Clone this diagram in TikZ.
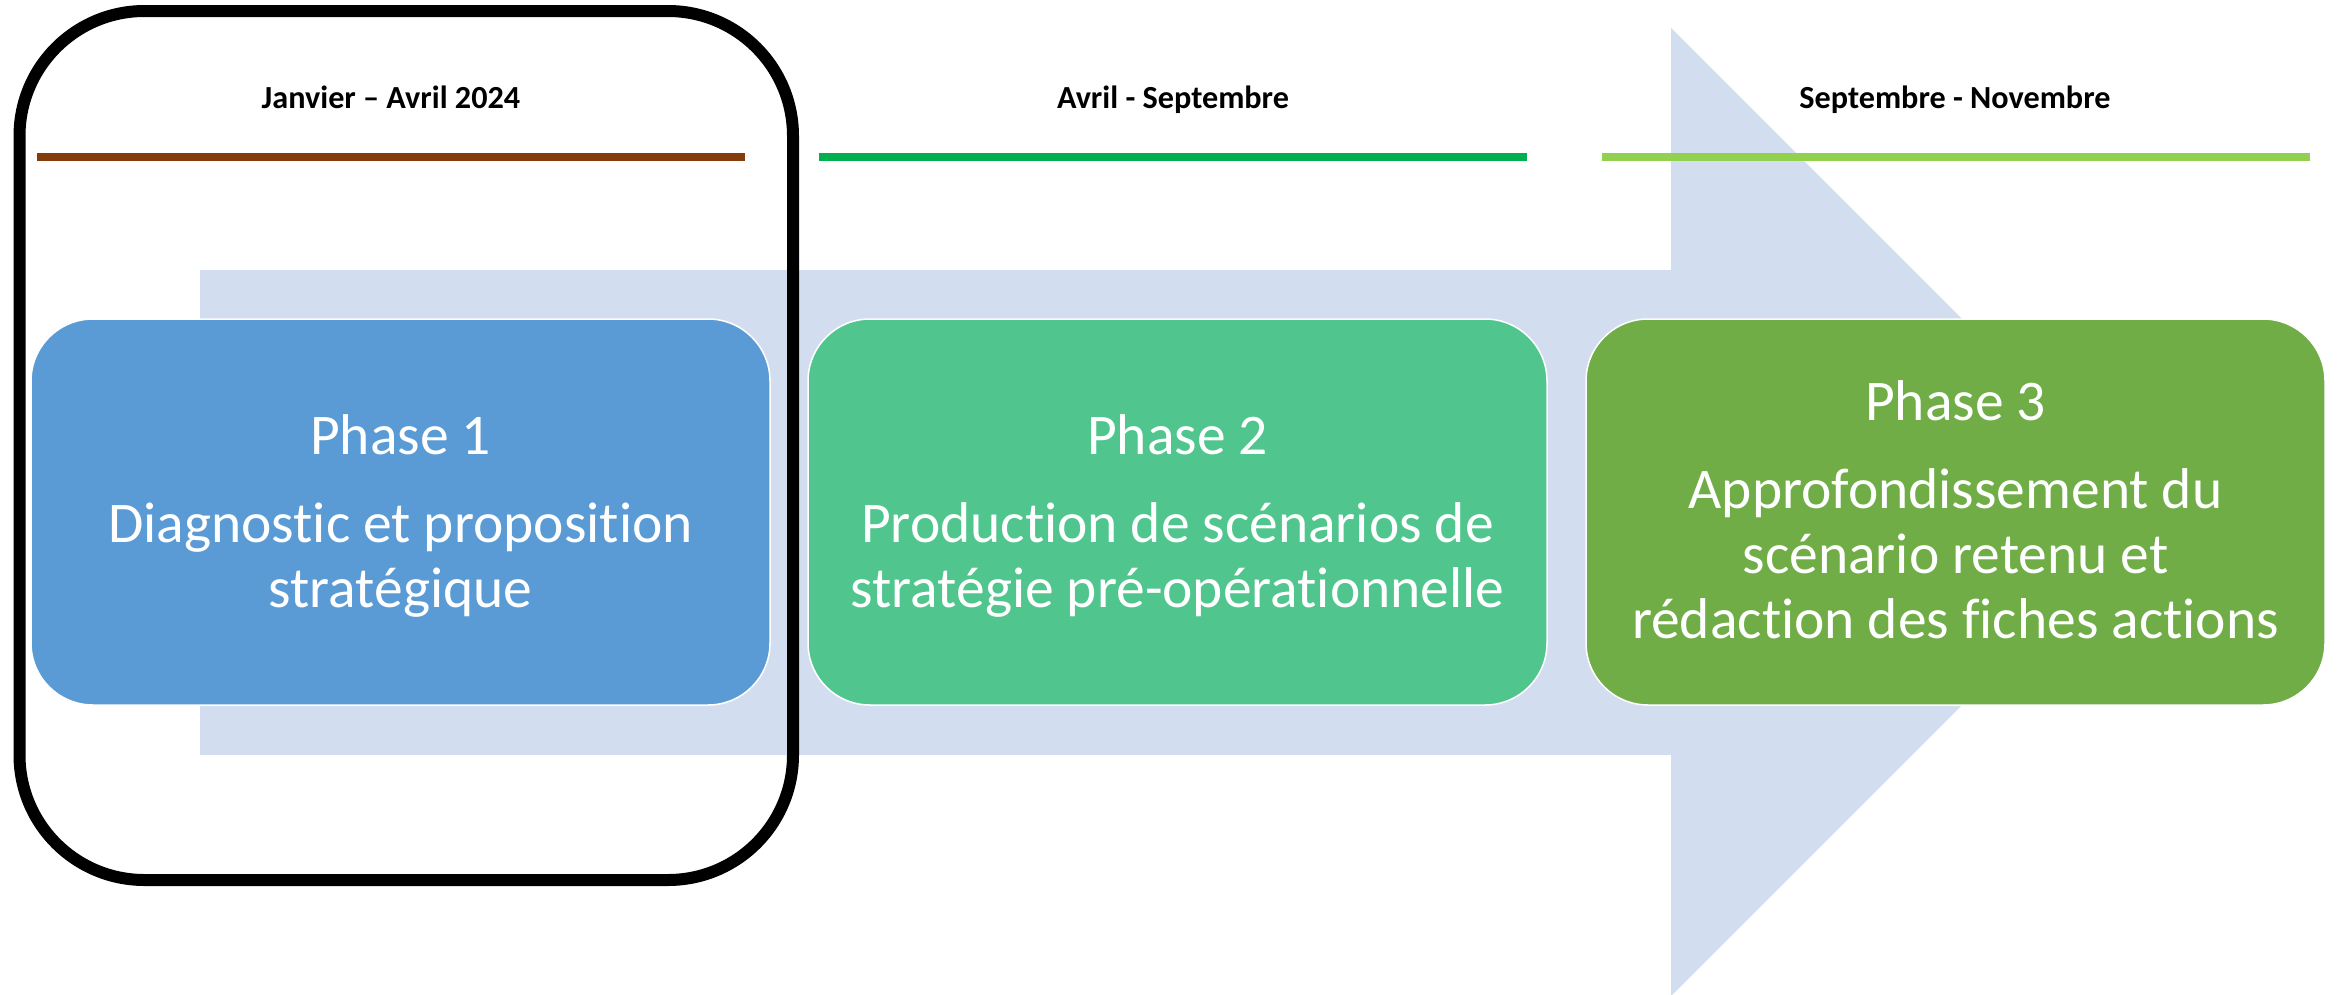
\documentclass[tikz,border=0pt]{standalone}
\usepackage{fontspec}
\setmainfont{Carlito}[Ligatures={NoCommon,TeX}]
\definecolor{arrowblue}{RGB}{210,222,239}
\definecolor{pOneblue}{RGB}{91,155,213}
\definecolor{pTwogreen}{RGB}{80,198,142}
\definecolor{pThreegreen}{RGB}{112,173,71}
\definecolor{brownline}{RGB}{132,60,12}
\definecolor{greenline}{RGB}{0,176,80}
\definecolor{lightgreenline}{RGB}{146,208,80}
\begin{document}
\begin{tikzpicture}[x=1pt,y=-1pt,
  phasebox/.style={draw=white, line width=1.5pt, rounded corners=62pt, minimum width=739pt, minimum height=386pt, inner sep=0pt},
  phasetext/.style={text=white, align=center, font=\fontsize{57.5}{65}\selectfont, inner sep=0pt},
  period/.style={font=\bfseries\fontsize{32.2}{38}\selectfont, anchor=base, inner sep=0pt},
  periodline/.style={line width=8pt},
  frame/.style={draw=black, line width=12pt, rounded corners=125pt}
]
\useasboundingbox (0,0) rectangle (2338,994);
% big background arrow
\fill[arrowblue] (200,270) -- (1671,270) -- (1671,28) -- (2155,512) -- (1671,996) -- (1671,755) -- (200,755) -- cycle;
% phase boxes
\node[phasebox, fill=pOneblue] (b1) at (400.5,512) {};
\node[phasebox, fill=pTwogreen] (b2) at (1177.5,512) {};
\node[phasebox, fill=pThreegreen] (b3) at (1955.5,512) {};
\node[phasetext] (t1) at (400.5,516) {Phase 1\\[23pt]Diagnostic et proposition\\strat\'egique};
\node[phasetext] (t2) at (1177.5,516) {Phase 2\\[23pt]Production de sc\'enarios de\\strat\'egie pr\'e-op\'erationnelle};
\node[phasetext] (t3) at (1955.5,510) {Phase 3\\[23pt]Approfondissement du\\sc\'enario retenu et\\r\'edaction des fiches actions};
% highlight frame
\draw[frame] (19.5,11) rectangle (793,880);
% periods
\node[period] (h1) at (391,108) {Janvier -- Avril 2024};
\node[period] (h2) at (1173,108) {Avril - Septembre};
\node[period] (h3) at (1955,108) {Septembre - Novembre};
\draw[periodline, brownline] (37,157) -- (745,157);
\draw[periodline, greenline] (819,157) -- (1527,157);
\draw[periodline, lightgreenline] (1602,157) -- (2310,157);
\end{tikzpicture}
\end{document}
